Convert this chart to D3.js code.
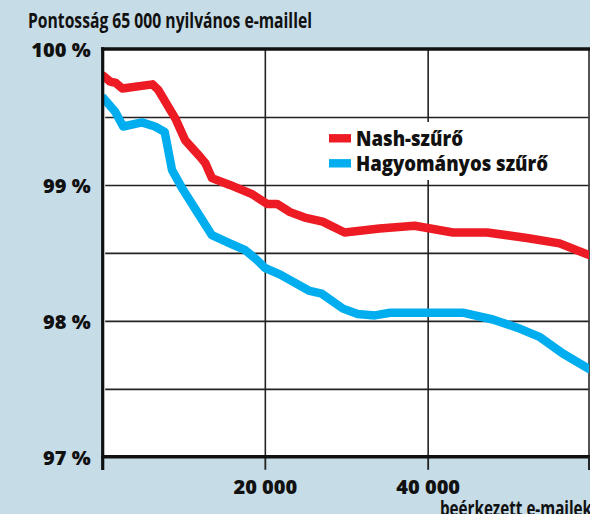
<!DOCTYPE html>
<html><head><meta charset="utf-8">
<script src="https://cdn.jsdelivr.net/npm/d3@7"></script>
<style>html,body{margin:0;padding:0;background:#fff;} svg{display:block;}</style>
</head><body>
<script>
// ---- data ----
const chartTitle = "Pontosság 65 000 nyilvános e-maillel";
const xAxisTitle = "beérkezett e-mailek";
const seriesNames = ["Nash-szűrő", "Hagyományos szűrő"];
const seriesColors = ["#ed1c24", "#00aeef"];

const nashEmails   = [0, 1000, 1700, 2500, 6200, 6900, 7700, 9000, 10200, 12000, 12700, 13500, 15700, 18500, 20300, 21500, 23100, 24900, 27100, 29800, 34100, 38400, 43100, 47300, 52200, 56200, 60000];
const nashAccuracy = [99.81, 99.76, 99.75, 99.71, 99.74, 99.70, 99.62, 99.49, 99.33, 99.21, 99.16, 99.05, 99.00, 98.93, 98.86, 98.86, 98.80, 98.76, 98.73, 98.65, 98.68, 98.70, 98.65, 98.65, 98.61, 98.57, 98.48];

const hagyEmails   = [0, 1600, 2600, 4900, 6500, 7700, 8600, 9800, 11700, 13500, 15700, 17600, 19000, 20000, 21900, 25500, 27000, 29600, 31400, 33500, 35400, 39900, 44300, 48000, 51000, 53800, 56600, 60000];
const hagyAccuracy = [99.65, 99.54, 99.43, 99.46, 99.43, 99.39, 99.11, 98.98, 98.80, 98.63, 98.57, 98.52, 98.45, 98.39, 98.34, 98.22, 98.20, 98.09, 98.05, 98.04, 98.06, 98.06, 98.06, 98.01, 97.95, 97.88, 97.76, 97.64];

const yTickValues = [100, 99, 98, 97];
const yTickLabels = ["100 %", "99 %", "98 %", "97 %"];
const yGridValues = [99.5, 99, 98.5, 98, 97.5];
const xTickValues = [20000, 40000];
const xTickLabels = ["20 000", "40 000"];
const xGridValues = [20000, 40000];

// ---- layout ----
const W = 590, H = 514;
const plotL = 102.7, plotR = 589, plotT = 49, plotB = 456.8;
const heavy = "'Open Sans', 'Liberation Sans', sans-serif";
const narrow = "'Open Sans', 'Liberation Sans Narrow', 'Liberation Sans', sans-serif";

const svg = d3.select("body").append("svg").attr("width", W).attr("height", H);

svg.append("rect").attr("x", 0).attr("y", 0).attr("width", W).attr("height", H).attr("fill", "#c6dce6");

const x = d3.scaleLinear().domain([0, 60000]).range([102, 590.5]);
const y = d3.scaleLinear().domain([97, 100]).range([plotB, plotT]);

// plot area
svg.append("rect").attr("x", plotL).attr("y", plotT).attr("width", plotR - plotL).attr("height", plotB - plotT).attr("fill", "#fff");

// horizontal gridlines
const gy = svg.append("g").attr("transform", `translate(${plotL},0)`)
  .call(d3.axisLeft(y).tickValues(yGridValues).tickSize(-(plotR - plotL) - 3).tickSizeOuter(0).tickFormat(""));
gy.select(".domain").remove();
gy.selectAll(".tick line").attr("stroke", "#222").attr("stroke-width", 1.6).attr("x1", 2.5);

// vertical gridlines
const gx = svg.append("g").attr("transform", `translate(0,${plotB})`)
  .call(d3.axisBottom(x).tickValues(xGridValues).tickSize(-(plotB - plotT)).tickSizeOuter(0).tickFormat(""));
gx.select(".domain").remove();
gx.selectAll(".tick line").attr("stroke", "#222").attr("stroke-width", 1.6);

// right border
svg.append("line").attr("x1", plotR).attr("x2", plotR).attr("y1", plotT).attr("y2", 470).attr("stroke", "#444").attr("stroke-width", 1.8);

// legend background
svg.append("rect").attr("x", 318).attr("y", 122).attr("width", 250).attr("height", 58).attr("fill", "#fff");

// lines
svg.append("clipPath").attr("id", "clip").append("rect")
  .attr("x", plotL).attr("y", plotT).attr("width", plotR - plotL).attr("height", plotB - plotT);

const line = d3.line().x(d => x(d[0])).y(d => y(d[1]));
const series = [
  d3.zip(nashEmails, nashAccuracy),
  d3.zip(hagyEmails, hagyAccuracy)
];
svg.append("g").attr("clip-path", "url(#clip)")
  .selectAll("path").data(series).join("path")
  .attr("d", line).attr("fill", "none")
  .attr("stroke", (d, i) => seriesColors[i])
  .attr("stroke-width", 8.5).attr("stroke-linejoin", "round");

// legend
const legY = [138.3, 163.3];
const legW = [107, 192];
const leg = svg.append("g").selectAll("g").data(seriesNames).join("g");
leg.append("rect").attr("x", 329).attr("y", (d, i) => legY[i] - 4.2).attr("width", 22).attr("height", 8.4)
  .attr("fill", (d, i) => seriesColors[i]);
leg.append("text").attr("x", 356).attr("y", (d, i) => legY[i] + 7.6)
  .attr("font-family", heavy).attr("font-weight", 800).attr("font-size", 20.5)
  .attr("textLength", (d, i) => legW[i]).attr("lengthAdjust", "spacingAndGlyphs")
  .attr("fill", "#111").text(d => d);

// frame: top border, left axis, bottom axis
svg.append("line").attr("x1", 101).attr("x2", plotR + 1).attr("y1", plotT).attr("y2", plotT).attr("stroke", "#111").attr("stroke-width", 3.4);

const yAxis = svg.append("g").attr("transform", `translate(${plotL},0)`)
  .call(d3.axisLeft(y).tickValues(yTickValues).tickFormat((d, i) => yTickLabels[i]).tickSize(0).tickPadding(12));
yAxis.select(".domain").remove();
yAxis.selectAll("text").attr("font-family", heavy).attr("font-weight", 800).attr("font-size", 20).attr("fill", "#111").attr("dy", "0.36em");
svg.append("line").attr("x1", plotL).attr("x2", plotL).attr("y1", plotT - 1.7).attr("y2", 470).attr("stroke", "#111").attr("stroke-width", 3.2);

const xAxis = svg.append("g").attr("transform", `translate(0,${plotB})`)
  .call(d3.axisBottom(x).tickValues(xTickValues).tickFormat((d, i) => xTickLabels[i]).tickSize(13).tickPadding(10));
xAxis.select(".domain").remove();
xAxis.selectAll(".tick line").attr("stroke", "#222").attr("stroke-width", 1.8);
xAxis.selectAll("text").attr("font-family", heavy).attr("font-weight", 800).attr("font-size", 20).attr("fill", "#111");
svg.append("line").attr("x1", 101).attr("x2", plotR + 1).attr("y1", plotB).attr("y2", plotB).attr("stroke", "#111").attr("stroke-width", 3.5);
svg.append("line").attr("x1", plotR).attr("x2", plotR).attr("y1", plotB).attr("y2", 470).attr("stroke", "#222").attr("stroke-width", 1.8);

// titles (condensed heavy look via glyph compression)
svg.append("text").attr("x", 28).attr("y", 28.3)
  .attr("font-family", narrow).attr("font-weight", 700).attr("font-size", 20.5)
  .attr("textLength", 284).attr("lengthAdjust", "spacingAndGlyphs")
  .attr("fill", "#111").text(chartTitle);
svg.append("text").attr("x", 440).attr("y", 515.5)
  .attr("font-family", narrow).attr("font-weight", 700).attr("font-size", 20.5)
  .attr("textLength", 152).attr("lengthAdjust", "spacingAndGlyphs")
  .attr("fill", "#111").text(xAxisTitle);
</script>
</body></html>
